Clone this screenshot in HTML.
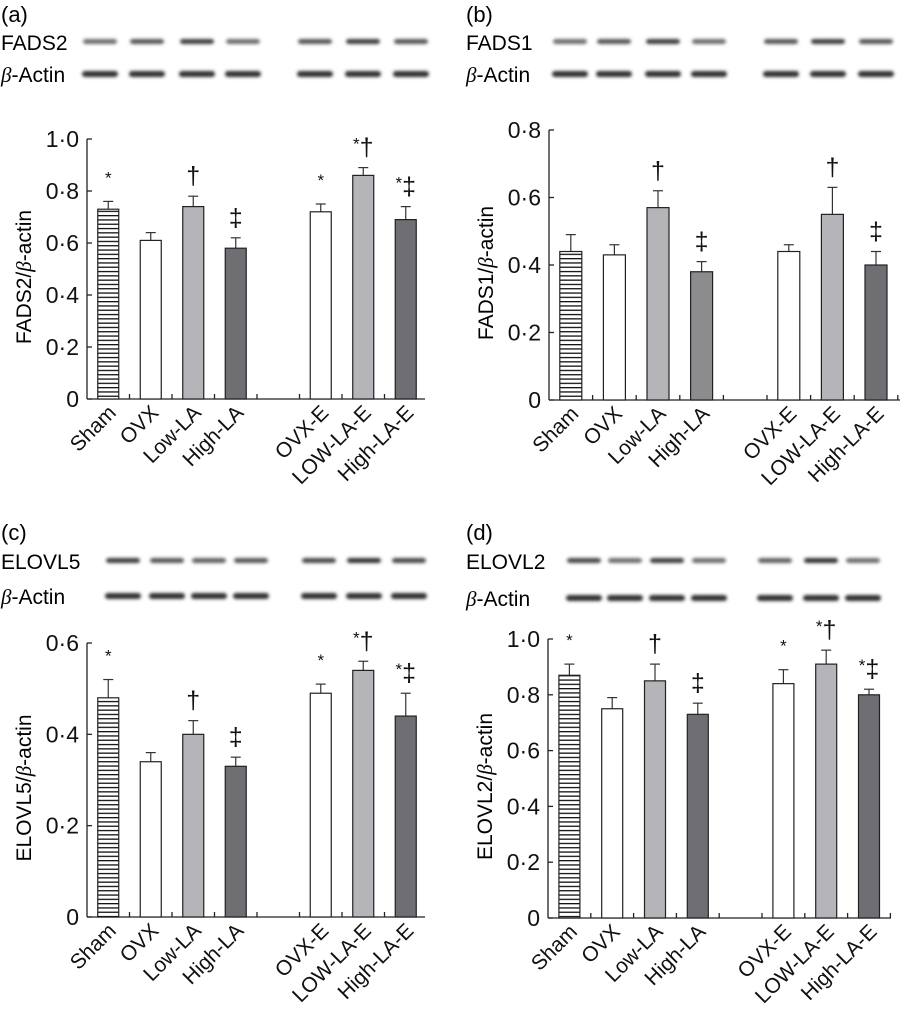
<!DOCTYPE html>
<html><head><meta charset="utf-8"><style>
body{margin:0;background:#fff;}
svg{display:block;font-family:"Liberation Sans",sans-serif;}
</style></head><body>
<svg id="fig" width="900" height="1012" viewBox="0 0 900 1012">
<defs>
<filter id="blur" x="-20%" y="-100%" width="140%" height="300%"><feGaussianBlur stdDeviation="1.6"/></filter>
<pattern id="hatch" width="10" height="4.3" patternUnits="userSpaceOnUse"><rect width="10" height="4.3" fill="#fff"/><rect y="0" width="10" height="1.3" fill="#111"/></pattern>
</defs>
</svg>
<script>
const categories = ["Sham","OVX","Low-LA","High-LA","OVX-E","LOW-LA-E","High-LA-E"];
const valuesA = [0.73,0.61,0.74,0.58,0.72,0.86,0.69];
const errTopA = [0.76,0.64,0.78,0.62,0.75,0.89,0.74];
const sigA = ["*","","†","‡","*","*†","*‡"];
const valuesB = [0.44,0.43,0.57,0.38,0.44,0.55,0.40];
const errTopB = [0.49,0.46,0.62,0.41,0.46,0.63,0.44];
const sigB = ["","","†","‡","","†","‡"];
const valuesC = [0.48,0.34,0.40,0.33,0.49,0.54,0.44];
const errTopC = [0.52,0.36,0.43,0.35,0.51,0.56,0.49];
const sigC = ["*","","†","‡","*","*†","*‡"];
const valuesD = [0.87,0.75,0.85,0.73,0.84,0.91,0.80];
const errTopD = [0.91,0.79,0.91,0.77,0.89,0.96,0.82];
const sigD = ["*","","†","‡","*","*†","*‡"];
const ticksA = ["0","0·2","0·4","0·6","0·8","1·0"];
const ticksB = ["0","0·2","0·4","0·6","0·8"];
const ticksC = ["0","0·2","0·4","0·6"];
const ticksD = ["0","0·2","0·4","0·6","0·8","1·0"];
const bandA = [0.5,0.7,0.9,0.5,0.7,0.9,0.7];
const bandB = [0.5,0.7,0.9,0.5,0.7,0.9,0.7];
const bandC = [0.9,0.7,0.6,0.7,0.8,1.0,0.8];
const bandD = [0.8,0.5,0.9,0.5,0.6,1.0,0.5];

const NS="http://www.w3.org/2000/svg";
const svg=document.getElementById('fig');
function mk(tag,attrs,parent,text){const e=document.createElementNS(NS,tag);for(const k in attrs)e.setAttribute(k,attrs[k]);if(text!==undefined)e.textContent=text;(parent||svg).appendChild(e);return e;}
const fills=["url(#hatch)","#fff","#b5b5b9","#6f6f73","#fff","#b5b5b9","#6f6f73"];
const slotIdx=[0,1,2,3,5,6,7];

function panel(p){
  const g=mk('g',{});
  
  
  const y=v=>p.y0-(v/p.max)*(p.y0-p.yTop);
  const cx=i=>p.ax+p.slot*(slotIdx[i]+0.5);
  const lab=mk('text',{x:p.lx,y:p.ly,'font-size':22},g,'('+p.id+')');
  
  
  const bl=mk('g',{},g);
  
  
  const t1=mk('text',{x:p.lx,y:p.by1+8,'font-size':21},bl,p.gene);
  
  
  const t2=mk('text',{x:p.lx,y:p.by2+8,'font-size':21},bl);
  mk('tspan',{'font-family':'Liberation Serif, serif','font-style':'italic'},t2,'β');
  mk('tspan',{},t2,'-Actin');
  
  
  for(let i=0;i<7;i++){
    const c=p.lanes[i];
    const d=p.band[i];
    const gv=Math.round(170-120*d);
    const b1=mk('rect',{x:c-17,y:p.by1-3,width:34,height:5,rx:3,fill:'rgb('+gv+','+gv+','+gv+')',filter:'url(#blur)'},bl);
    
    
    const b2=mk('rect',{x:c-18,y:p.by2-3,width:36,height:6,rx:3,fill:'#333',filter:'url(#blur)'},bl);
    
    
  }
  const ax=mk('g',{stroke:'#222','stroke-width':1.3},g);
  
  
  mk('line',{x1:p.ax,y1:p.yTop,x2:p.ax,y2:p.y0},ax);
  mk('line',{x1:p.ax,y1:p.y0,x2:p.right,y2:p.y0},ax);
  for(let s=1;s<=8;s++){const xx=p.ax+p.slot*s; if(xx<=p.right+1) mk('line',{x1:xx,y1:p.y0,x2:xx,y2:p.y0-5},ax);}
  p.ticks.forEach((t,k)=>{
    const v=k*p.step; const yy=y(v);
    mk('line',{x1:p.ax,y1:yy,x2:p.ax+5,y2:yy},ax);
    const tl=mk('text',{x:p.ax-8,y:yy+8,'font-size':23,'text-anchor':'end',fill:'#111'},g,t);
    
    
  });
  const yt=mk('text',{transform:`translate(${p.ax-56},${(p.y0+p.yTop)/2+8}) rotate(-90)`,'font-size':21,'text-anchor':'middle'},g);
  mk('tspan',{},yt,p.gene+'/');
  mk('tspan',{'font-family':'Liberation Serif, serif','font-style':'italic'},yt,'β');
  mk('tspan',{},yt,'-actin');
  
  
  for(let i=0;i<7;i++){
    const x=cx(i), bw=p.bw;
    const top=y(p.vals[i]), et=y(p.err[i]);
    const eb=mk('line',{x1:x,y1:top,x2:x,y2:et,stroke:'#333','stroke-width':1.2},g);
    
    
    mk('line',{x1:x-5,y1:et,x2:x+5,y2:et,stroke:'#333','stroke-width':1.2},g);
    let f=fills[i]; if(p.id==='b'&&i===3) f='#8c8c8f';
    const r=mk('rect',{x:x-bw/2,y:top,width:bw,height:p.y0-top,fill:f,stroke:'#222','stroke-width':1.2},g);
    
    
    if(p.sig[i]){
      const s=mk('text',{x:x,y:et-12,'font-size':25,'text-anchor':'middle',fill:'#111'},g);
      for(const ch of p.sig[i]){
        if(ch==='*') mk('tspan',{'font-size':17,dy:-6},s,'*');
        else mk('tspan',{dy: p.sig[i].length>1?6:0},s,ch);
      }
      
      
    }
    const xl=mk('text',{transform:`translate(${x+9},${p.y0+15}) rotate(-45)`,'font-size':21,'text-anchor':'end',fill:'#111'},g,categories[i]);
    
    
  }
}
panel({id:'a',gene:'FADS2',lx:1,ly:22,by1:42,by2:74,lanes:[100,147,197,243,315,363,411],band:bandA,ax:87,slot:42.5,right:425,y0:399,yTop:139,max:1.0,step:0.2,ticks:ticksA,vals:valuesA,err:errTopA,sig:sigA,bw:21});
panel({id:'b',gene:'FADS1',lx:466,ly:22,by1:42,by2:74,lanes:[570,614,663,709,781,828,876],band:bandB,ax:549,slot:43.6,right:900,y0:400,yTop:130,max:0.8,step:0.2,ticks:ticksB,vals:valuesB,err:errTopB,sig:sigB,bw:22});
panel({id:'c',gene:'ELOVL5',lx:1,ly:540,by1:561,by2:596,lanes:[123,167,209,251,319,364,409],band:bandC,ax:87,slot:42.5,right:425,y0:917,yTop:643,max:0.6,step:0.2,ticks:ticksC,vals:valuesC,err:errTopC,sig:sigC,bw:21});
panel({id:'d',gene:'ELOVL2',lx:466,ly:540,by1:561,by2:598,lanes:[584,625,667,709,775,821,863],band:bandD,ax:548,slot:42.8,right:891,y0:918,yTop:639,max:1.0,step:0.2,ticks:ticksD,vals:valuesD,err:errTopD,sig:sigD,bw:21});
</script>
</body></html>
